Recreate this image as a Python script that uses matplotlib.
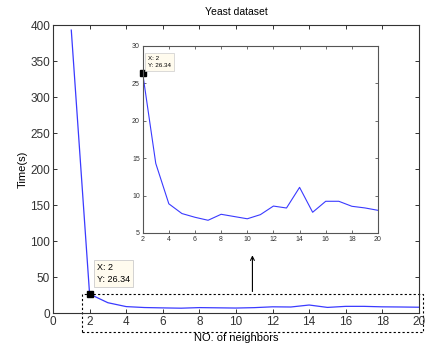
import matplotlib
matplotlib.use("Agg")
import matplotlib.pyplot as plt
from matplotlib.patches import Rectangle, FancyArrowPatch

plt.rcParams["font.family"] = ["Liberation Sans", "DejaVu Sans"]

# data
neighbors = list(range(1, 21))
times = [393, 26.34, 14.3, 8.9, 7.6, 7.1, 6.7, 7.5, 7.2, 6.9,
         7.45, 8.6, 8.34, 11.1, 7.77, 9.24, 9.24, 8.57, 8.35, 8.03]
main_xticks = list(range(0, 21, 2))
main_yticks = list(range(0, 401, 50))
inset_xticks = list(range(2, 21, 2))
inset_yticks = [5, 10, 15, 20, 25, 30]
tip_x, tip_y = 2, 26.34

line_col = "#3a3aff"
spine_col = "#333333"
tip_bg = "#fffbee"

fig = plt.figure(figsize=(4.28, 3.44), dpi=100)
ax = fig.add_axes([0.1238, 0.0901, 0.855, 0.837])
ax.plot(neighbors, times, color=line_col, lw=0.9)
ax.set_xlim(0, 20)
ax.set_ylim(0, 400)
ax.set_xticks(main_xticks)
ax.set_yticks(main_yticks)
ax.tick_params(direction="in", top=True, right=True, labelsize=8.5,
               length=3, width=0.7, colors=spine_col, pad=2)
for s in ax.spines.values():
    s.set_color(spine_col)
    s.set_linewidth(0.8)
ax.set_title("Yeast dataset", fontsize=7.5, pad=7)
ax.set_xlabel("NO. of neighbors", fontsize=8, labelpad=4)
ax.set_ylabel("Time(s)", fontsize=8, labelpad=2)

# datatip on main axes
ax.plot([tip_x], [tip_y], "s", color="black", ms=5)
ax.annotate(f"X: {tip_x}\nY: {tip_y}", xy=(tip_x, tip_y), xytext=(2.4, 55),
            fontsize=6.5, ha="left", va="center", linespacing=1.5,
            bbox=dict(boxstyle="square,pad=0.35", fc=tip_bg, ec="#cccccc", lw=0.6))

# dashed zoom region (extends below the axes)
ax.add_patch(Rectangle((1.6, -26), 18.6, 52, fill=False, ls=(0, (2, 2)),
                       lw=0.8, ec="black", clip_on=False))
ax.add_patch(FancyArrowPatch((10.9, 26), (10.9, 84), arrowstyle="->",
                             mutation_scale=7, lw=0.8, color="black",
                             clip_on=False))

# inset
ins = fig.add_axes([0.3334, 0.3227, 0.5498, 0.5436])
ins.plot(neighbors[1:], times[1:], color=line_col, lw=0.8)
ins.set_xlim(2, 20)
ins.set_ylim(5, 30)
ins.set_xticks(inset_xticks)
ins.set_yticks(inset_yticks)
ins.tick_params(direction="in", top=True, right=True, labelsize=5,
                length=2, width=0.5, colors=spine_col, pad=2)
for s in ins.spines.values():
    s.set_color("#555555")
    s.set_linewidth(0.8)
ins.plot([tip_x], [tip_y], "s", color="black", ms=4, clip_on=False)
ins.annotate(f"X: {tip_x}\nY: {tip_y}", xy=(tip_x, tip_y), xytext=(2.4, 27.9),
             fontsize=4.5, ha="left", va="center", linespacing=1.6,
             bbox=dict(boxstyle="square,pad=0.45", fc=tip_bg, ec="#cccccc", lw=0.5))

fig.savefig("out.png", dpi=100)
